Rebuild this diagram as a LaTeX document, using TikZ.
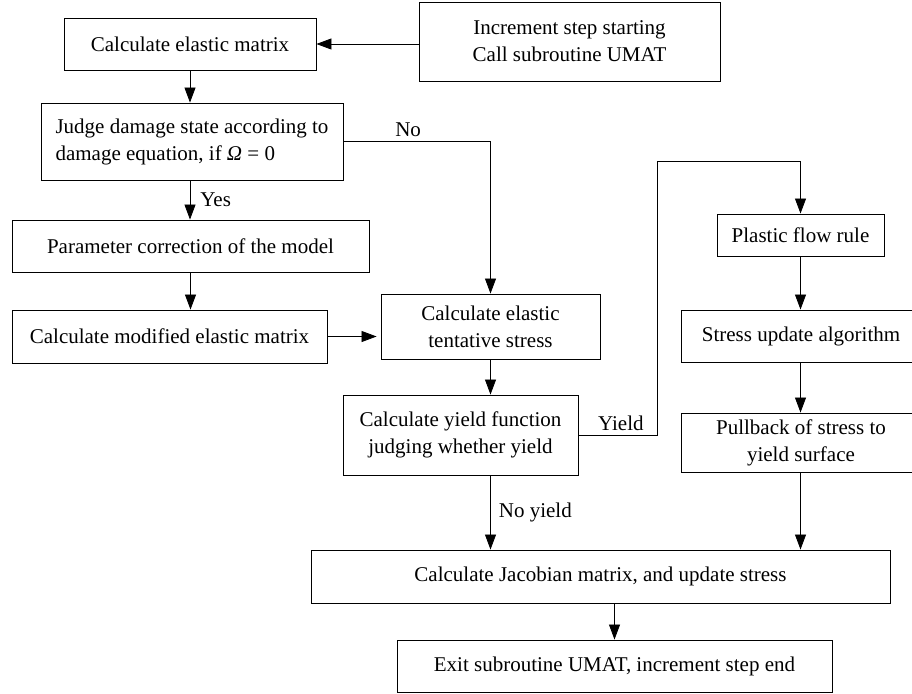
\documentclass[tikz,border=0pt]{standalone}
\usepackage{fontspec}
\setmainfont{Liberation Serif}
\usetikzlibrary{arrows.meta}

\begin{document}
\begin{tikzpicture}[
    x=1pt, y=-1pt,
    every node/.style={font=\fontsize{21}{27}\selectfont},
    box/.style={draw, line width=0.9pt, inner sep=0pt, align=center},
    arr/.style={-{Triangle[length=15pt,width=11pt]}, line width=0.8pt},
    lbl/.style={inner sep=4pt}
  ]
    \useasboundingbox (0,0) rectangle (912,693);

    \node[box, minimum width=301pt, minimum height=79pt] (start) at (569.5,41.5) {Increment step starting\\Call subroutine UMAT};
    \node[box, minimum width=252pt, minimum height=52pt] (elas) at (190,44) {Calculate elastic matrix};
    \node[box, minimum width=302pt, minimum height=77pt, align=left] (judge) at (192,141.5) {Judge damage state according to\\damage equation, if \textit{Ω} = 0};
    \node[box, minimum width=357pt, minimum height=52pt] (param) at (190.5,246) {Parameter correction of the model};
    \node[box, minimum width=315pt, minimum height=53pt] (modif) at (169.5,336.5) {Calculate modified elastic matrix};
    \node[box, minimum width=219pt, minimum height=65pt] (tent) at (490.5,326.5) {Calculate elastic\\tentative stress};
    \node[box, minimum width=235pt, minimum height=80pt] (yfun) at (460.5,435) {Calculate yield function\\judging whether yield};
    \node[box, minimum width=167pt, minimum height=42pt] (flow) at (800.5,235) {Plastic flow rule};
    \node[box, minimum width=240pt, minimum height=52pt] (upd) at (801,336) {Stress update algorithm};
    \node[box, minimum width=240pt, minimum height=59pt] (pull) at (801,442.5) {Pullback of stress to\\yield surface};
    \node[box, minimum width=579pt, minimum height=53pt] (jac) at (600.5,576.5) {Calculate Jacobian matrix, and update stress};
    \node[box, minimum width=435pt, minimum height=52pt] (exit) at (614.5,666) {Exit subroutine UMAT, increment step end};

    \coordinate (ybend) at (657,161);

    \draw[arr] (start.west |- elas.east) -- (elas.east);
    \draw[arr] (elas.south) -- (elas.south |- judge.north);
    \draw[arr] (judge.south -| elas) -- node[lbl, right, xshift=6pt]{Yes} (param.north -| elas);
    \draw[arr] (judge.east) -| node[lbl, above, pos=0.22]{No} (tent.north);
    \draw[arr] (param.south) -- (param.south |- modif.north);
    \draw[arr, shorten >=4pt] (modif.east) -- (tent.west |- modif.east);
    \draw[arr] (tent.south) -- (tent.south |- yfun.north);
    \draw[arr] (yfun.east) -| node[lbl, above, pos=0.27]{Yield} (ybend) -| (flow.north);
    \draw[arr] (flow.south) -- (flow.south |- upd.north);
    \draw[arr] (upd.south -| flow) -- (pull.north -| flow);
    \draw[arr] (pull.south -| flow) -- (jac.north -| flow);
    \draw[arr] (yfun.south -| tent) -- node[lbl, right, xshift=4pt]{No yield} (jac.north -| tent);
    \draw[arr] (exit.north |- jac.south) -- (exit.north);
  \end{tikzpicture}
\end{document}
